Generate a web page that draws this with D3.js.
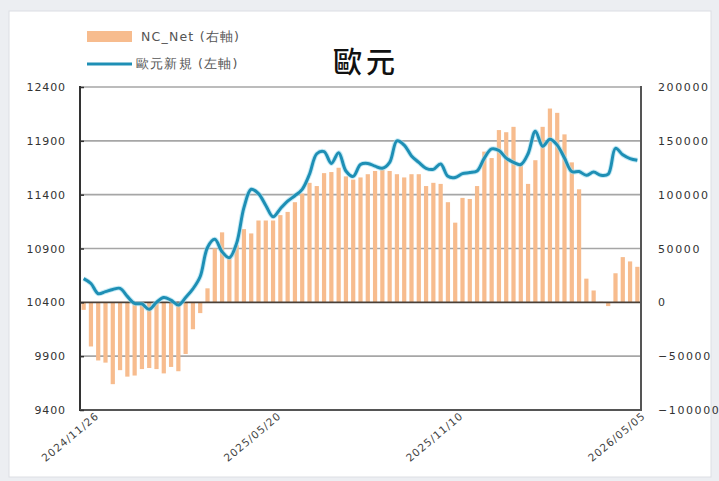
<!DOCTYPE html>
<html><head><meta charset="utf-8">
<script src="https://cdn.jsdelivr.net/npm/d3@7"></script>
<style>html,body{margin:0;padding:0;background:#eceef2;}svg{display:block;}</style>
</head><body>
<svg id="c" width="719" height="481"></svg>
<script>
const dates = ["2024/11/26","2024/12/03","2024/12/10","2024/12/17","2024/12/24","2024/12/31","2025/01/07","2025/01/14","2025/01/21","2025/01/28","2025/02/04","2025/02/11","2025/02/18","2025/02/25","2025/03/04","2025/03/11","2025/03/18","2025/03/25","2025/04/01","2025/04/08","2025/04/15","2025/04/22","2025/04/29","2025/05/06","2025/05/13","2025/05/20","2025/05/27","2025/06/03","2025/06/10","2025/06/17","2025/06/24","2025/07/01","2025/07/08","2025/07/15","2025/07/22","2025/07/29","2025/08/05","2025/08/12","2025/08/19","2025/08/26","2025/09/02","2025/09/09","2025/09/16","2025/09/23","2025/09/30","2025/10/07","2025/10/14","2025/10/21","2025/10/28","2025/11/04","2025/11/10","2025/11/18","2025/11/25","2025/12/02","2025/12/09","2025/12/16","2025/12/23","2025/12/30","2026/01/06","2026/01/13","2026/01/20","2026/01/27","2026/02/03","2026/02/10","2026/02/17","2026/02/24","2026/03/03","2026/03/10","2026/03/17","2026/03/24","2026/03/31","2026/04/07","2026/04/14","2026/04/21","2026/04/28","2026/05/05","2026/05/12"];
const ncNet = [-7000,-41000,-54000,-56000,-76000,-63000,-69000,-68000,-62000,-61000,-62000,-66000,-60000,-64000,-48000,-25000,-10000,13000,50000,65000,41000,53000,68000,64000,76000,76000,76000,81000,84000,93000,101000,111000,108000,120000,121000,125000,117000,114000,116000,119000,122000,123000,122000,119000,116000,119000,119000,108000,111000,110000,93000,74000,97000,96000,108000,140000,134000,160000,158000,163000,128000,110000,132000,163000,180000,176000,156000,130000,105000,22000,11000,500,-3500,27000,42000,38000,33000];
const eurLine = [10620,10575,10480,10500,10520,10530,10455,10390,10385,10335,10400,10445,10420,10375,10445,10525,10640,10910,10985,10870,10815,10950,11280,11450,11410,11300,11195,11270,11340,11390,11450,11590,11780,11800,11690,11790,11620,11570,11680,11690,11665,11645,11700,11900,11860,11760,11700,11645,11635,11685,11570,11560,11595,11605,11620,11740,11825,11810,11740,11700,11680,11780,11990,11850,11915,11860,11740,11615,11615,11580,11610,11580,11590,11830,11770,11735,11720];
const leftTicks = [9400,9900,10400,10900,11400,11900,12400];
const rightTicks = [-100000,-50000,0,50000,100000,150000,200000];
const xLabels = ["2024/11/26","2025/05/20","2025/11/10","2026/05/05"];
const title = "歐元";
const legendBar = "NC_Net (右軸)";
const legendLine = "歐元新規 (左軸)";

const svg = d3.select("#c");
const L = 80, R = 641, T = 87, B = 410;
const font = "'DejaVu Sans', Verdana, sans-serif";

svg.append("rect").attr("x",9).attr("y",11).attr("width",702).attr("height",466)
  .attr("fill","#ffffff").attr("stroke","#dcdee3").attr("stroke-width",1);

const x = d3.scaleBand().domain(dates).range([L,R]).paddingInner(0.42).paddingOuter(0.21);
const yL = d3.scaleLinear().domain([9400,12400]).range([B,T]);
const yR = d3.scaleLinear().domain([-100000,200000]).range([B,T]);

// gridlines
svg.append("g").selectAll("line").data(leftTicks.filter(d=>d!==9400 && d!==10400)).join("line")
  .attr("x1",L).attr("x2",R).attr("y1",d=>yL(d)).attr("y2",d=>yL(d))
  .attr("stroke","#a6a6a6").attr("stroke-width",1.6);

// bars
svg.append("g").selectAll("rect").data(dates).join("rect")
  .attr("x",d=>x(d)).attr("width",x.bandwidth())
  .attr("y",(d,i)=>Math.min(yR(ncNet[i]),yR(0)))
  .attr("height",(d,i)=>Math.abs(yR(ncNet[i])-yR(0)))
  .attr("fill","#f7bc8e");

// zero line
svg.append("line").attr("x1",L).attr("x2",R).attr("y1",yR(0)).attr("y2",yR(0))
  .attr("stroke","#4a4038").attr("stroke-width",1.8);

// line
const lineGen = d3.line().x((d,i)=>x(dates[i])+x.bandwidth()/2).y(d=>yL(d)).curve(d3.curveCatmullRom.alpha(0.5));
svg.append("path").datum(eurLine).attr("d",lineGen).attr("fill","none")
  .attr("stroke","#9fdcef").attr("stroke-width",5).attr("stroke-opacity",0.6);
svg.append("path").datum(eurLine).attr("d",lineGen).attr("fill","none")
  .attr("stroke","#1e8fb5").attr("stroke-width",3);

// axes lines
svg.append("line").attr("x1",L).attr("x2",L).attr("y1",T-1).attr("y2",B+1).attr("stroke","#333").attr("stroke-width",2);
svg.append("line").attr("x1",R).attr("x2",R).attr("y1",T-1).attr("y2",B+1).attr("stroke","#555").attr("stroke-width",2);
svg.append("line").attr("x1",L).attr("x2",R).attr("y1",B).attr("y2",B).attr("stroke","#555").attr("stroke-width",2);

const axL = d3.axisLeft(yL).tickValues(leftTicks).tickSize(-4).tickPadding(14).tickFormat(d3.format("d"));
const gL = svg.append("g").attr("transform",`translate(${L},0)`).call(axL);
gL.select(".domain").remove();
gL.selectAll("line").attr("stroke","#333").attr("stroke-width",1.5);
gL.selectAll("text").attr("font-family",font).attr("font-size",11).attr("fill","#333").attr("letter-spacing","0.9px");

const axR = d3.axisRight(yR).tickValues(rightTicks).tickSize(0).tickPadding(17).tickFormat(d3.format("d"));
const gR = svg.append("g").attr("transform",`translate(${R},0)`).call(axR);
gR.select(".domain").remove();
gR.selectAll("text").attr("font-family",font).attr("font-size",11).attr("fill","#333").attr("letter-spacing","1.6px");

// x labels
svg.append("g").selectAll("text").data(xLabels).join("text")
  .attr("transform",d=>`translate(${x(d)+x.bandwidth()/2+16},${417}) rotate(-40)`)
  .attr("text-anchor","end").attr("font-family",font).attr("font-size",10.5)
  .attr("letter-spacing","1px").attr("fill","#444").text(d=>d);

// title
svg.append("text").attr("x",366).attr("y",73).attr("text-anchor","middle")
  .attr("font-family","'Noto Sans CJK TC','Noto Sans CJK SC',sans-serif").attr("font-size",29)
  .attr("font-weight",500).attr("letter-spacing","4px").attr("fill","#111").text(title);

// legend
svg.append("rect").attr("x",87).attr("y",31).attr("width",45).attr("height",11).attr("fill","#f7bc8e");
svg.append("text").attr("x",141).attr("y",41).attr("font-family",font).attr("font-size",12.5)
  .attr("letter-spacing","1.2px").attr("fill","#555").text(legendBar);
svg.append("line").attr("x1",87).attr("x2",132).attr("y1",64).attr("y2",64).attr("stroke","#1e8fb5").attr("stroke-width",3);
svg.append("text").attr("x",136).attr("y",68).attr("font-family",font).attr("font-size",12.5)
  .attr("letter-spacing","1.2px").attr("fill","#555").text(legendLine);
</script>
</body></html>
